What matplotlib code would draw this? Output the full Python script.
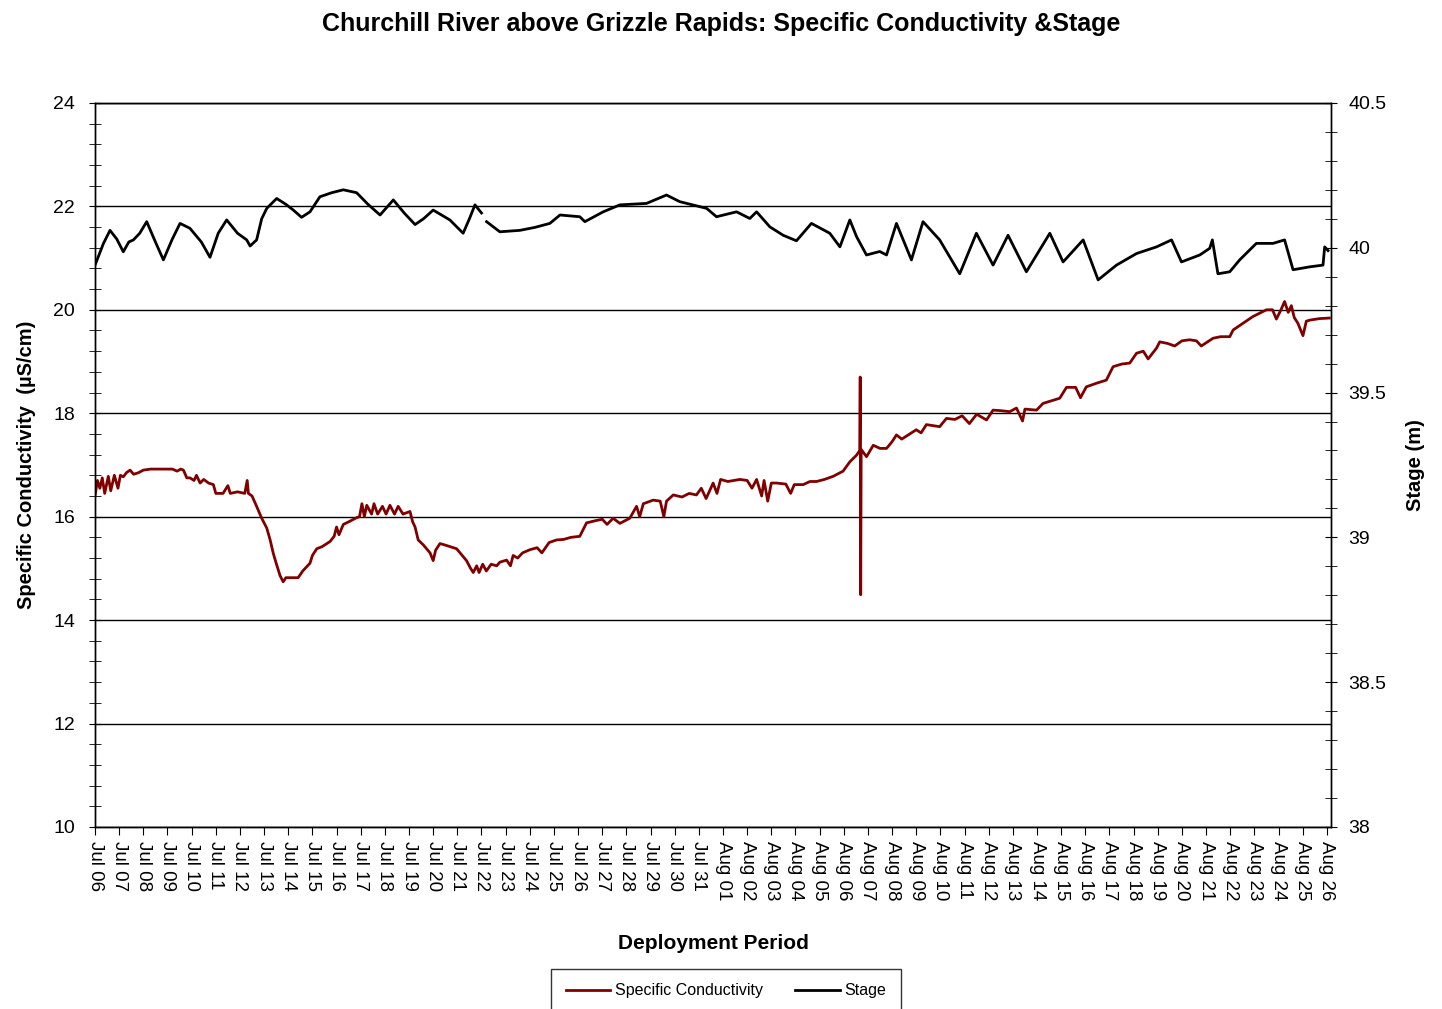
import numpy as np
import pandas as pd
import matplotlib
matplotlib.use("Agg")
import matplotlib.pyplot as plt
import matplotlib.dates as mdates
from matplotlib.ticker import MultipleLocator, FormatStrFormatter

plt.rcParams['font.family'] = ['Liberation Sans', 'DejaVu Sans']

start = pd.Timestamp("2011-07-06")

# specific conductivity (uS/cm), offsets in days from Jul 06
cond_day = [0.00, 0.10, 0.20, 0.30, 0.40, 0.55, 0.65, 0.80, 0.95, 1.05, 1.17, 1.30, 1.45,
            1.60, 1.80, 2.00, 2.30, 2.55, 2.90, 3.20, 3.40, 3.55, 3.66, 3.80, 3.93, 4.10,
            4.20, 4.35, 4.50, 4.70, 4.90, 5.00, 5.30, 5.50, 5.60, 5.90, 6.20, 6.30, 6.35,
            6.50, 6.69, 6.90, 7.11, 7.25, 7.38, 7.50, 7.66, 7.79, 7.90, 8.41, 8.60, 8.90,
            9.00, 9.18, 9.40, 9.73, 9.90, 10.00, 10.10, 10.28, 10.50, 10.83, 10.95, 11.05,
            11.15, 11.25, 11.45, 11.55, 11.70, 11.90, 12.05, 12.21, 12.40, 12.55, 12.75,
            13.04, 13.15, 13.25, 13.38, 13.60, 13.87, 14.00, 14.10, 14.28, 14.50, 14.70,
            14.97, 15.20, 15.38, 15.55, 15.66, 15.80, 15.90, 16.05, 16.20, 16.40, 16.63,
            16.76, 17.04, 17.20, 17.31, 17.50, 17.70, 18.00, 18.30, 18.50, 18.80, 19.11,
            19.40, 19.70, 20.07, 20.35, 20.70, 21.00, 21.20, 21.45, 21.73, 22.14, 22.30,
            22.42, 22.55, 22.70, 23.11, 23.40, 23.55, 23.66, 23.94, 24.30, 24.60, 24.90,
            25.10, 25.30, 25.59, 25.75, 25.90, 26.20, 26.70, 27.00, 27.20, 27.39, 27.60,
            27.70, 27.85, 28.00, 28.21, 28.60, 28.80, 28.95, 29.32, 29.60, 29.87, 30.20,
            30.56, 30.97, 31.25, 31.53, 31.66, 31.68, 31.70, 31.72, 31.94, 32.22, 32.50,
            32.77, 33.00, 33.18, 33.40, 34.00, 34.20, 34.42, 34.97, 35.25, 35.60, 35.90,
            36.20, 36.50, 36.91, 37.18, 37.50, 37.87, 38.15, 38.40, 38.50, 38.98, 39.25,
            39.94, 40.22, 40.60, 40.80, 41.04, 41.46, 41.87, 42.15, 42.50, 42.84, 43.12,
            43.40, 43.60, 43.95, 44.08, 44.40, 44.70, 45.00, 45.32, 45.60, 45.80, 46.29,
            46.60, 46.98, 47.12, 47.53, 47.94, 48.50, 48.75, 48.91, 49.10, 49.25, 49.40,
            49.53, 49.65, 49.80, 50.01, 50.15, 50.29, 50.70, 51.10]
cond_val = [16.40, 16.70, 16.55, 16.75, 16.45, 16.78, 16.50, 16.80, 16.55, 16.80, 16.77, 16.85, 16.90,
            16.82, 16.85, 16.90, 16.92, 16.92, 16.92, 16.92, 16.88, 16.92, 16.90, 16.75, 16.75, 16.70,
            16.80, 16.65, 16.72, 16.65, 16.62, 16.45, 16.45, 16.60, 16.45, 16.48, 16.45, 16.70, 16.45,
            16.40, 16.20, 15.97, 15.78, 15.55, 15.29, 15.10, 14.86, 14.74, 14.82, 14.82, 14.95, 15.10,
            15.25, 15.38, 15.42, 15.52, 15.62, 15.80, 15.65, 15.85, 15.90, 15.98, 16.00, 16.25,
            16.00, 16.22, 16.05, 16.25, 16.05, 16.20, 16.05, 16.22, 16.05, 16.20, 16.05,
            16.10, 15.90, 15.80, 15.55, 15.45, 15.30, 15.15, 15.35, 15.48, 15.45, 15.42,
            15.38, 15.25, 15.15, 15.00, 14.92, 15.05, 14.92, 15.08, 14.95, 15.08, 15.05,
            15.12, 15.16, 15.05, 15.25, 15.20, 15.30, 15.36, 15.40, 15.30, 15.50, 15.55,
            15.56, 15.60, 15.62, 15.88, 15.92, 15.95, 15.85, 15.97, 15.87, 15.97, 16.10,
            16.20, 16.00, 16.25, 16.32, 16.30, 16.00, 16.30, 16.42, 16.38, 16.45, 16.42,
            16.55, 16.35, 16.65, 16.45, 16.72, 16.68, 16.72, 16.70, 16.55, 16.72, 16.40,
            16.70, 16.30, 16.65, 16.65, 16.63, 16.45, 16.62, 16.62, 16.68, 16.68, 16.72,
            16.78, 16.88, 17.06, 17.19, 17.28, 18.70, 14.49, 17.30, 17.16, 17.38, 17.32,
            17.32, 17.45, 17.58, 17.50, 17.68, 17.62, 17.78, 17.74, 17.90, 17.88, 17.95,
            17.80, 17.98, 17.87, 18.06, 18.05, 18.03, 18.10, 17.85, 18.08, 18.06, 18.19,
            18.29, 18.50, 18.50, 18.30, 18.51, 18.58, 18.64, 18.90, 18.95, 18.97, 19.16,
            19.20, 19.05, 19.26, 19.38, 19.35, 19.30, 19.40, 19.42, 19.40, 19.30, 19.45,
            19.48, 19.48, 19.61, 19.74, 19.87, 20.00, 20.00, 19.82, 20.00, 20.16, 19.95,
            20.08, 19.85, 19.74, 19.50, 19.78, 19.80, 19.83, 19.84]

# river stage (m)
stage_day = [0.00, 0.35, 0.62, 0.90, 1.17, 1.40, 1.59, 1.85, 2.14, 2.50, 2.83, 3.20, 3.52,
             3.93, 4.40, 4.76, 5.10, 5.45, 5.90, 6.28, 6.42, 6.69, 6.90, 7.11, 7.52, 7.90,
             8.21, 8.55, 8.90, 9.31, 9.80, 10.28, 10.83, 11.30, 11.80, 12.35, 12.80, 13.25,
             13.60, 14.00, 14.69, 15.24, 15.50, 15.73, 16.00, 16.08, 16.21, 16.76, 17.59,
             18.20, 18.83, 19.25, 20.07, 20.28, 21.04, 21.73, 22.83, 23.66, 24.21, 25.32,
             25.73, 26.56, 27.11, 27.39, 27.94, 28.49, 29.04, 29.66, 30.42, 30.84, 31.25,
             31.53, 31.94, 32.49, 32.77, 33.18, 33.80, 34.28, 34.97, 35.80, 36.49, 37.18,
             37.80, 38.56, 39.53, 40.08, 40.91, 41.53, 42.29, 43.12, 43.95, 44.57, 44.98,
             45.74, 46.15, 46.26, 46.49, 46.98, 47.39, 48.08, 48.77, 49.25, 49.60, 50.29,
             50.84, 50.91, 51.05]
stage_val = [39.940, 40.015, 40.060, 40.030, 39.986, 40.020, 40.027, 40.050, 40.090, 40.020, 39.958, 40.030, 40.084,
             40.067, 40.020, 39.967, 40.050, 40.096, 40.050, 40.027, 40.006, 40.027, 40.100, 40.136, 40.170, 40.150,
             40.130, 40.105, 40.124, 40.176, 40.190, 40.200, 40.190, 40.150, 40.113, 40.165, 40.120, 40.080,
             40.100, 40.130, 40.096, 40.050, 40.100, 40.148, 40.120, np.nan, 40.090, 40.055, 40.060,
             40.070, 40.084, 40.113, 40.107, 40.090, 40.124, 40.148, 40.153, 40.182, 40.159, 40.136,
             40.107, 40.124, 40.101, 40.124, 40.072, 40.043, 40.024, 40.084, 40.050, 40.003, 40.096,
             40.038, 39.975, 39.987, 39.975, 40.084, 39.958, 40.090, 40.027, 39.910, 40.050, 39.940,
             40.043, 39.917, 40.050, 39.951, 40.027, 39.889, 39.940, 39.980, 40.003, 40.027, 39.951,
             39.975, 39.998, 40.027, 39.910, 39.917, 39.958, 40.015, 40.015, 40.027, 39.924, 39.934,
             39.940, 40.003, 39.990]

cond_t = start + pd.to_timedelta(cond_day, unit="D")
stage_t = start + pd.to_timedelta(stage_day, unit="D")

fig = plt.figure(figsize=(14.42, 10.09), dpi=100)
ax = fig.add_axes([0.0659, 0.1804, 0.8571, 0.7176])
ax2 = ax.twinx()

ax.plot(cond_t, cond_val, color="#800000", lw=2.0, label="Specific Conductivity")
ax2.plot(stage_t, stage_val, color="black", lw=2.0, label="Stage")

ax.set_ylim(10, 24)
ax2.set_ylim(38, 40.5)
ax.set_xlim(start, start + pd.Timedelta(days=51.17))

ax.yaxis.set_major_locator(MultipleLocator(2))
ax.yaxis.set_minor_locator(MultipleLocator(0.4))
ax2.yaxis.set_major_locator(MultipleLocator(0.5))
ax2.yaxis.set_minor_locator(MultipleLocator(0.1))
ax2.yaxis.set_major_formatter(FormatStrFormatter('%g'))
ax.grid(axis="y", which="major", color="black", lw=1.0)

ax.xaxis.set_major_locator(mdates.DayLocator())
ax.xaxis.set_major_formatter(mdates.DateFormatter("%b %d"))
ax.tick_params(axis="x", direction="out", length=6, rotation=270, labelsize=13.5, pad=4)
ax.tick_params(axis="y", which="both", direction="inout", length=9, labelsize=14, pad=10)
ax2.tick_params(axis="y", which="both", direction="inout", length=9, labelsize=14, pad=8)

for a in (ax, ax2):
    for s in a.spines.values():
        s.set_color("black")
        s.set_linewidth(1.0)

ax.set_xlabel("Deployment Period", fontsize=15, fontweight="bold", labelpad=24)
ax.set_ylabel("Specific Conductivity  (µS/cm)", fontsize=14.5, fontweight="bold", labelpad=12)
ax2.set_ylabel("Stage (m)", fontsize=14.5, fontweight="bold", labelpad=14)
fig.suptitle("Churchill River above Grizzle Rapids: Specific Conductivity &Stage",
             x=0.5, y=0.976, va="center", fontsize=18, fontweight="bold")

lines = ax.get_lines() + ax2.get_lines()
leg = fig.legend(lines, [l.get_label() for l in lines], loc="upper center",
                 bbox_to_anchor=(0.5035, 0.0397), ncol=2, fontsize=11.5, frameon=True,
                 fancybox=False, edgecolor="black", handlelength=2.8, handletextpad=0.3,
                 columnspacing=2.0, borderpad=0.9, borderaxespad=0)
leg.get_frame().set_linewidth(1.0)

fig.savefig("out.png", dpi=100)
